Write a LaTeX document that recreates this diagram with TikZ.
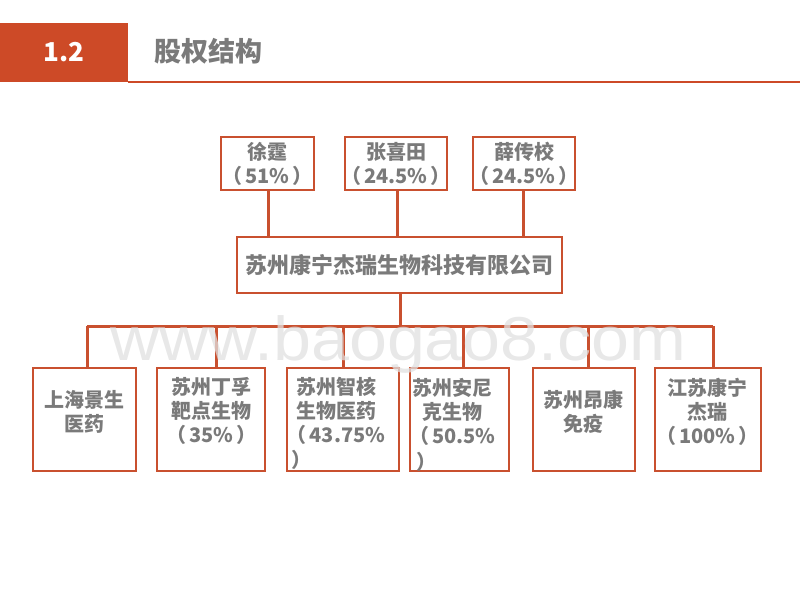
\documentclass[tikz,border=0pt]{standalone}
\usepackage{fontspec}
\setmainfont{Noto Sans CJK SC}
\newfontfamily\wmfont{Liberation Sans}
\definecolor{hdr}{HTML}{CD4A27}
\definecolor{ln}{HTML}{C9502F}
\definecolor{tx}{HTML}{7A7A7A}
\definecolor{wm}{HTML}{E0E0E0}
\newcommand{\lp}{（\hspace{3pt}}
\newcommand{\rp}{\hspace{3pt}）}
\tikzset{
  box/.style={draw=ln, line width=2.4pt, rectangle, inner sep=0pt, text=tx,
    font=\bfseries\fontsize{20}{24}\selectfont, align=center},
  lbl/.style={text=tx, font=\bfseries\fontsize{20}{24}\selectfont, align=center, inner sep=0pt},
  wire/.style={draw=ln, line width=3pt},
}
\begin{document}
\begin{tikzpicture}[x=1pt,y=-1pt]
\useasboundingbox (0,0) rectangle (800,600);
% header
\fill[hdr] (0,23) rectangle (128,82);
\draw[hdr, line width=2.5pt] (128,82) -- (800,82);
\node[text=white, font=\bfseries\fontsize{26}{30}\selectfont, inner sep=0pt] (num) at (64,52) {1.2};
\node[text=tx, font=\bfseries\fontsize{27}{30}\selectfont, inner sep=0pt] (title) at (208.5,51) {股权结构};
% shareholders
\node[box, minimum width=93pt, minimum height=53pt] (t1) at (267.5,163.5) {};
\node[box, minimum width=102pt, minimum height=53pt] (t2) at (396,163.5) {};
\node[box, minimum width=102pt, minimum height=53pt] (t3) at (524,163.5) {};
\node[lbl] (t1l) at (t1.center) {徐霆\\\lp51\%\rp};
\node[lbl] (t2l) at (t2.center) {张喜田\\\lp24.5\%\rp};
\node[lbl] (t3l) at (t3.center) {薛传校\\\lp24.5\%\rp};
% main company
\node[box, minimum width=325pt, minimum height=56pt, font=\bfseries\fontsize{22}{26}\selectfont] (main) at (399.5,265) {苏州康宁杰瑞生物科技有限公司};
% upper connectors
\coordinate (u1) at (268,190);
\coordinate (u2) at (397,190);
\coordinate (u3) at (523,190);
\draw[wire] (u1) -- (u1 |- main.north);
\draw[wire] (u2) -- (u2 |- main.north);
\draw[wire] (u3) -- (u3 |- main.north);
% subsidiaries
\node[box, minimum width=103pt, minimum height=103pt] (c1) at (84.5,419.5) {};
\node[box, minimum width=108pt, minimum height=103pt] (c2) at (211,419.5) {};
\node[box, minimum width=112pt, minimum height=103pt] (c3) at (343,419.5) {};
\node[box, minimum width=99pt, minimum height=103pt] (c4) at (459.5,419.5) {};
\node[box, minimum width=102pt, minimum height=103pt] (c5) at (584,419.5) {};
\node[box, minimum width=106pt, minimum height=103pt] (c6) at (708,419.5) {};
% bus
\coordinate (bus) at (400,326);
\coordinate (j1) at (87,326);
\coordinate (j2) at (216,326);
\coordinate (j3) at (343,326);
\coordinate (j4) at (463,326);
\coordinate (j5) at (588,326);
\coordinate (j6) at (713,326);
\draw[wire] (main.south -| bus) -- (bus);
\draw[wire] (j1) -- (j6);
\draw[wire] (j1) -- (j1 |- c1.north);
\draw[wire] (j2) -- (j2 |- c2.north);
\draw[wire] (j3) -- (j3 |- c3.north);
\draw[wire] (j4) -- (j4 |- c4.north);
\draw[wire] (j5) -- (j5 |- c5.north);
\draw[wire] (j6) -- (j6 |- c6.north);
% subsidiary texts
\node[lbl] (l1) at (84.5,411.5) {上海景生\\医药};
\node[lbl] (l2) at (211.5,411) {苏州丁孚\\靶点生物\\\lp35\%\rp};
\node[lbl] (l3) at (336,411) {苏州智核\\生物医药\\\lp43.75\%};
\node[lbl, anchor=west] (l3p) at (291,460) {）};
\node[lbl] (l4) at (452.5,412) {苏州安尼\\克生物\\\lp50.5\%};
\node[lbl, anchor=west] (l4p) at (416,462) {）};
\node[lbl] (l5) at (583.7,411.5) {苏州昂康\\免疫};
\node[lbl] (l6) at (707.5,411.5) {江苏康宁\\杰瑞\\\lp100\%\rp};
% watermark
\node[text=wm, text opacity=0.75, font=\wmfont\fontsize{62}{70}\selectfont, inner sep=0pt, anchor=base, xscale=1.1] (wmk) at (398.5,360) {www.baogao8.com};
\end{tikzpicture}
\end{document}
